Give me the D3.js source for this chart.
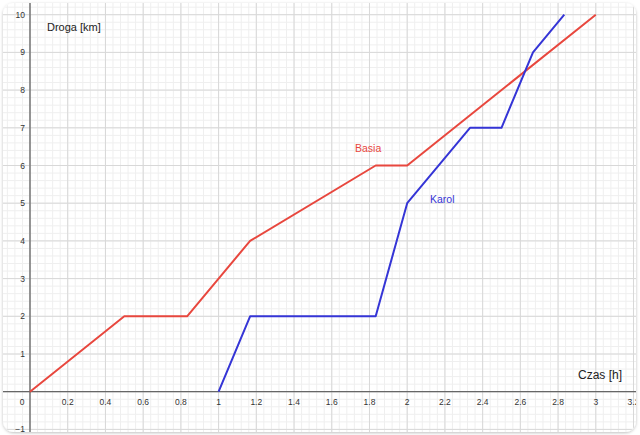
<!DOCTYPE html>
<html>
<head>
<meta charset="utf-8">
<script src="https://cdn.jsdelivr.net/npm/d3@7"></script>
<style>
  body { margin: 0; background: #ffffff; }
  svg { display: block; font-family: "Liberation Sans", Arial, sans-serif; }
</style>
</head>
<body>
<div id="chart"></div>
<script>
// Data
const basiaTime = [0, 0.5, 0.833, 1.167, 1.833, 2, 3];
const basiaDist = [0, 2, 2, 4, 6, 6, 10];
const karolTime = [1, 1.167, 1.833, 2, 2.333, 2.5, 2.667, 2.833];
const karolDist = [0, 2, 2, 5, 7, 7, 9, 10];
const xTicks = [0.2, 0.4, 0.6, 0.8, 1, 1.2, 1.4, 1.6, 1.8, 2, 2.2, 2.4, 2.6, 2.8, 3, 3.2];
const yTicks = [-1, 1, 2, 3, 4, 5, 6, 7, 8, 9, 10];

const width = 640, height = 435;
const panel = { x: 3, y: 3, w: 633, h: 429, r: 11 };

const svg = d3.select("#chart").append("svg")
    .attr("width", width)
    .attr("height", height);

const defs = svg.append("defs");
const shadow = defs.append("filter").attr("id", "shadow")
    .attr("x", "-5%").attr("y", "-5%").attr("width", "110%").attr("height", "110%");
shadow.append("feDropShadow")
    .attr("dx", 0).attr("dy", 1).attr("stdDeviation", 1.5)
    .attr("flood-color", "#000").attr("flood-opacity", 0.25);
defs.append("clipPath").attr("id", "clip")
    .append("rect")
    .attr("x", panel.x).attr("y", panel.y)
    .attr("width", panel.w).attr("height", panel.h)
    .attr("rx", panel.r);

svg.append("rect")
    .attr("x", panel.x).attr("y", panel.y)
    .attr("width", panel.w).attr("height", panel.h)
    .attr("rx", panel.r)
    .attr("fill", "#fff")
    .attr("filter", "url(#shadow)");

const g = svg.append("g").attr("clip-path", "url(#clip)");

// Scales
const x = d3.scaleLinear().domain([0, 3.2]).range([30, 633.5]);
const y = d3.scaleLinear().domain([0, 10]).range([391.7, 14.7]);

// Minor grid
const xMinor = d3.range(-40, 90).map(i => i * 0.04);
const yMinor = d3.range(-10, 60).map(i => i * 0.2);
g.selectAll(".xminor").data(xMinor).enter().append("line")
    .attr("x1", d => x(d)).attr("x2", d => x(d))
    .attr("y1", 0).attr("y2", height)
    .attr("stroke", "#efefef").attr("stroke-width", 1);
g.selectAll(".yminor").data(yMinor).enter().append("line")
    .attr("x1", 0).attr("x2", width)
    .attr("y1", d => y(d)).attr("y2", d => y(d))
    .attr("stroke", "#efefef").attr("stroke-width", 1);

// Major grid
const xMajor = d3.range(-2, 18).map(i => i * 0.2);
const yMajor = d3.range(-2, 12);
g.selectAll(".xmajor").data(xMajor).enter().append("line")
    .attr("x1", d => x(d)).attr("x2", d => x(d))
    .attr("y1", 0).attr("y2", height)
    .attr("stroke", "#d8d8d8").attr("stroke-width", 1);
g.selectAll(".ymajor").data(yMajor).enter().append("line")
    .attr("x1", 0).attr("x2", width)
    .attr("y1", d => y(d)).attr("y2", d => y(d))
    .attr("stroke", "#d8d8d8").attr("stroke-width", 1);

// Axes
g.append("line")
    .attr("x1", 0).attr("x2", width)
    .attr("y1", y(0)).attr("y2", y(0))
    .attr("stroke", "#666").attr("stroke-width", 1.3);
g.append("line")
    .attr("x1", x(0)).attr("x2", x(0))
    .attr("y1", 0).attr("y2", height)
    .attr("stroke", "#666").attr("stroke-width", 1.3);

// Tick labels
g.selectAll(".xlab").data(xTicks).enter().append("text")
    .attr("x", d => x(d))
    .attr("y", y(0) + 13)
    .attr("text-anchor", "middle")
    .attr("font-size", 8.5)
    .attr("fill", "#333")
    .text(d => d3.format("~g")(d));
g.append("text")
    .attr("x", x(0) - 8).attr("y", y(0) + 13)
    .attr("text-anchor", "middle")
    .attr("font-size", 8.5).attr("fill", "#333")
    .text("0");
g.selectAll(".ylab").data(yTicks).enter().append("text")
    .attr("x", x(0) - 5)
    .attr("y", d => y(d) + 3)
    .attr("text-anchor", "end")
    .attr("font-size", 8.5)
    .attr("fill", "#333")
    .text(d => d < 0 ? "\u2212" + Math.abs(d) : d);

// Axis titles
g.append("text")
    .attr("x", 47).attr("y", 31)
    .attr("font-size", 11).attr("fill", "#222")
    .text("Droga [km]");
g.append("text")
    .attr("x", 578).attr("y", 379)
    .attr("font-size", 12).attr("fill", "#222")
    .text("Czas [h]");

// Lines
const line = d3.line().x(d => x(d[0])).y(d => y(d[1]));
g.append("path")
    .datum(basiaTime.map((t, i) => [t, basiaDist[i]]))
    .attr("d", line)
    .attr("fill", "none")
    .attr("stroke", "#e8473e")
    .attr("stroke-width", 2)
    .attr("stroke-linejoin", "round");
g.append("path")
    .datum(karolTime.map((t, i) => [t, karolDist[i]]))
    .attr("d", line)
    .attr("fill", "none")
    .attr("stroke", "#3535d6")
    .attr("stroke-width", 2)
    .attr("stroke-linejoin", "round");

// Series labels
g.append("text")
    .attr("x", 355).attr("y", 152)
    .attr("font-size", 10.5).attr("fill", "#e8473e")
    .text("Basia");
g.append("text")
    .attr("x", 430).attr("y", 203)
    .attr("font-size", 10.5).attr("fill", "#3535d6")
    .text("Karol");
</script>
</body>
</html>
